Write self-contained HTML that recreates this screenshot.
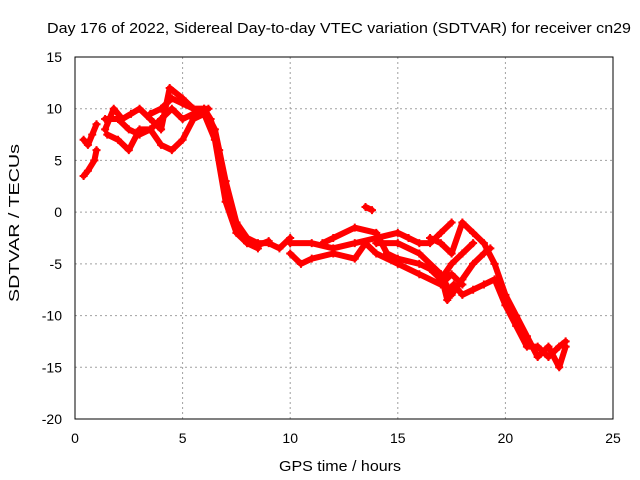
<!DOCTYPE html>
<html><head><meta charset="utf-8"><style>
body{margin:0;background:#fff}
svg{display:block;font-family:"Liberation Sans",sans-serif}
</style></head><body>
<svg id="chart" width="640" height="480">
<rect width="640" height="480" fill="#fff"/>
<g id="grid"></g>
<g id="series"></g>
<rect x="75" y="57" width="538" height="362" fill="none" stroke="#000" stroke-width="1"/>
<g id="ticks"></g>
<text x="339" y="33" font-size="15" textLength="584" lengthAdjust="spacingAndGlyphs" text-anchor="middle">Day 176 of 2022, Sidereal Day-to-day VTEC variation (SDTVAR) for receiver cn29</text>
<text x="340" y="471" font-size="15" textLength="122" lengthAdjust="spacingAndGlyphs" text-anchor="middle">GPS time / hours</text>
<text transform="translate(19,223) rotate(-90)" font-size="15" textLength="158" lengthAdjust="spacingAndGlyphs" text-anchor="middle">SDTVAR / TECUs</text>
</svg>
<script>
const xTicks=[0,5,10,15,20,25];
const yTicks=[15,10,5,0,-5,-10,-15,-20];
const trackA=[[0.4,7],[0.6,6.5],[0.8,7.5],[1,8.5]];
const trackB=[[0.4,3.5],[0.6,4],[0.9,5],[1,6]];
const trackC=[[1.4,8],[1.8,10],[2.2,9],[2.6,9.5],[3,10],[3.5,9],[4,8],[4.4,12],[5,11],[5.5,10],[6,10],[6.3,9],[6.7,6],[7,2],[7.5,-1],[8,-2.5],[8.5,-3],[9,-3],[9.5,-3.5],[10,-2.5]];
const trackD=[[1.4,9],[2,9],[2.5,8],[3,7.5],[3.5,8],[4,9],[4.5,10],[5,9],[5.5,9.5],[6,10],[6.5,8],[7,3],[7.5,-1],[8,-3],[8.5,-3.2],[9,-2.8]];
const trackE=[[1.5,7.5],[2,7],[2.5,6],[3,8],[3.5,8],[4,6.5],[4.5,6],[5,7],[5.5,9],[6,9.5],[6.5,7],[7,1],[7.5,-2],[8,-3],[8.5,-3.5]];
const trackF=[[3.5,9.5],[4,10],[4.5,11],[5,10.5],[5.5,10],[6.2,10]];
const trackG=[[10,-3],[11,-3],[12,-3.5],[13,-3],[14,-2.5],[15,-2],[15.5,-2.5],[16,-3],[16.5,-3],[17,-2],[17.5,-1]];
const trackH=[[10,-4],[10.5,-5],[11,-4.5],[12,-4],[13,-4.5],[13.5,-3],[14,-4],[15,-5],[16,-6],[17,-7],[17.5,-6],[18,-7]];
const trackI=[[11.5,-3],[12,-2.5],[13,-1.5],[14,-2],[14.5,-4],[15,-4.5],[16,-5],[16.5,-5.5],[17,-6.5],[17.5,-5],[18,-4],[18.5,-3]];
const trackJ=[[13.5,0.5],[13.8,0.2]];
const trackK=[[14,-3],[15,-3],[16,-4],[17,-6],[17.3,-8.5],[17.6,-7],[18,-8],[18.5,-7.5],[19,-7],[19.5,-6.5],[20,-9],[20.5,-11],[21,-13],[21.5,-13],[22,-14],[22.5,-13],[22.8,-12.5]];
const trackL=[[16.5,-2.5],[17,-3],[17.5,-4],[18,-1],[18.5,-2],[19,-3],[19.5,-5],[20,-8],[20.5,-10],[21,-12],[21.5,-14],[22,-13],[22.5,-15],[22.8,-13]];
const trackM=[[17,-6],[17.5,-8],[18,-6.5],[18.5,-5],[19,-4],[19.3,-3.5]];
const tracks=[trackA,trackB,trackC,trackD,trackE,trackF,trackG,trackH,trackI,trackJ,trackK,trackL,trackM];
const NS='http://www.w3.org/2000/svg';
const X=v=>75+v*(538/25);
const Y=v=>57+(15-v)*(362/35);
const grid=document.getElementById('grid'),ticks=document.getElementById('ticks'),ser=document.getElementById('series');
function mk(tag,attrs,parent){const e=document.createElementNS(NS,tag);for(const k in attrs)e.setAttribute(k,attrs[k]);parent.appendChild(e);return e;}
xTicks.forEach(t=>{
 if(t>0&&t<25){const g=mk('line',{x1:X(t),x2:X(t),y1:57,y2:419,stroke:'#a0a0a0','stroke-dasharray':'2,3'},grid);
 
 }
 const l=mk('text',{x:X(t),y:443,'text-anchor':'middle','font-size':'14'},ticks);l.textContent=t;
 
 
});
yTicks.forEach(t=>{
 if(t<15&&t>-20){const g=mk('line',{x1:75,x2:613,y1:Y(t),y2:Y(t),stroke:'#a0a0a0','stroke-dasharray':'2,3'},grid);
 
 }
 const l=mk('text',{x:62,y:Y(t)+5,'text-anchor':'end','font-size':'14'},ticks);l.textContent=t;
 
 
});
tracks.forEach((tr,i)=>{
 const p=mk('polyline',{points:tr.map(d=>X(d[0])+','+Y(d[1])).join(' '),fill:'none',stroke:'#f00','stroke-width':'6','stroke-linejoin':'round','stroke-linecap':'round'},ser);
 
 
 tr.forEach(d=>{
  const m=mk('path',{d:`M${X(d[0])-4},${Y(d[1])}h8M${X(d[0])},${Y(d[1])-4}v8`,stroke:'#f00','stroke-width':'2'},ser);
  
  
 });
});
</script>
</body></html>
